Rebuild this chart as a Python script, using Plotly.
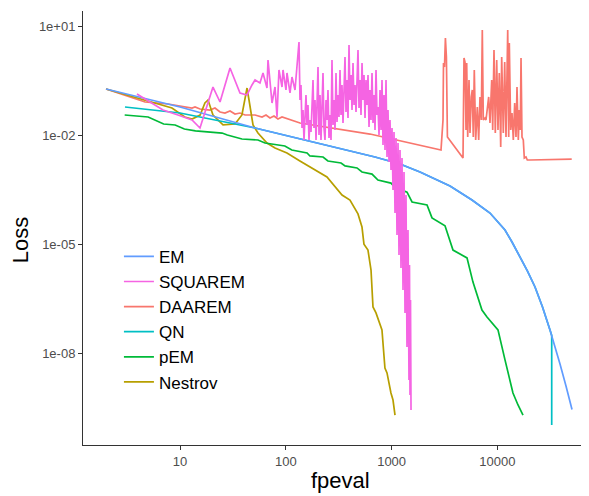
import plotly.graph_objects as go

# ---------------- data ----------------
em_x = [2, 10, 51.2, 136.2, 404.4, 696.8, 1201, 1855, 3565, 4431, 5754, 8511, 9913, 11800, 13740, 16360,
        19250, 22670, 26690, 31420, 35030, 39060, 44500, 50720]
em_y = [0.185, 0.0593, 0.0157, 0.00782, 0.00366, 0.00250, 0.00161, 9.7e-4, 3.99e-4, 2.73e-4, 1.64e-4,
        7.2e-5, 4.49e-5, 2.46e-5, 1.15e-5, 4.45e-6, 1.83e-6, 6.66e-7, 1.88e-7, 4.38e-8, 1.59e-8, 5.09e-9,
        1.26e-9, 2.84e-10]

qn_x = [3.02, 10, 51.2, 136.2, 404.4, 696.8, 1201, 1855, 3565, 4431, 5754, 8511, 9913, 11800, 13740, 16360,
        19250, 22670, 26690, 31420, 32610, 32610]
qn_y = [0.0593, 0.0405, 0.0157, 0.00782, 0.00366, 0.00250, 0.00161, 9.7e-4, 3.99e-4, 2.73e-4, 1.64e-4,
        7.2e-5, 4.49e-5, 2.46e-5, 1.15e-5, 4.45e-6, 1.83e-6, 6.66e-7, 1.88e-7, 4.38e-8, 3.1e-8, 1.07e-10]

pem_x = [3, 5, 7, 9, 11, 14, 25, 28, 38.5, 54.6, 63.6, 98, 114, 159, 169, 225, 250, 333, 363, 471, 525,
         653, 743, 986, 1077, 1399, 1560, 2162, 2409, 3198, 3805, 5160, 5877, 7147, 7974, 10130, 11800,
         14030, 15660, 17460]
pem_y = [0.0357, 0.0315, 0.0202, 0.0190, 0.0147, 0.0130, 0.0114, 0.0101, 0.00782, 0.00734, 0.00607,
         0.00502, 0.00390, 0.00322, 0.00267, 0.00250, 0.00194, 0.00171, 0.00142, 0.00125, 9.7e-4, 8.5e-4,
         5.8e-4, 4.8e-4, 3.7e-4, 2.7e-4, 1.45e-4, 1.2e-4, 5.3e-5, 3.2e-5, 6.9e-6, 4.2e-6, 9.1e-7, 1.55e-7,
         1.0e-7, 4.4e-8, 6.6e-9, 8.1e-10, 3.8e-10, 2.0e-10]

nes_x = [2, 5.2, 8.4, 11.1, 13.0, 15.5, 17.2, 18.4, 20.5, 25.5, 33.1, 38.5, 41.1, 43.0, 44.9, 49.0, 54.6,
         66.4, 79.1, 102.6, 136, 197, 245, 340, 404, 481, 525, 548, 598, 639, 667, 712, 811, 865, 905, 986,
         1031, 1077]
nes_y = [0.185, 0.0813, 0.0556, 0.0315, 0.0277, 0.0357, 0.0764, 0.0923, 0.0357, 0.0190, 0.0202, 0.0357,
         0.0923, 0.197, 0.0923, 0.0190, 0.0114, 0.00607, 0.00442, 0.00322, 0.00194, 1.03e-3, 7.05e-4,
         2.25e-4, 1.64e-4, 6.8e-5, 2.97e-5, 1e-5, 6.9e-6, 1.95e-6, 1.88e-7, 1.29e-7, 4.4e-8, 3.95e-9,
         2.9e-9, 8.1e-10, 5.2e-10, 2.0e-10]

sq_x = [3.92, 6.91, 9.57, 12.99, 15.45, 20.5, 23.9, 29.7, 36.9, 43.0,
        47.9, 51.2, 57.0, 60.9, 66.4, 67.9, 74.1, 79.1, 82.6, 86.2,
        92.1, 94.1, 100.4, 102.6, 109.6, 114.4, 122.2,
        133.3, 136.2, 139.2, 142.3, 145.4, 148.6, 151.9, 155.2, 158.6, 162.1,
        165.7, 169.3, 173.1, 176.9, 180.8, 184.7, 188.8, 193.0, 197.2, 201.6,
        206.0, 210.5, 215.1, 219.9, 224.7, 229.7, 234.7, 239.9, 245.1, 250.5,
        256.1, 261.7, 267.5, 273.3, 279.4, 285.5, 291.8, 298.2, 304.8, 311.5,
        318.3, 325.3, 332.5, 339.8, 347.3, 355.0, 362.8, 370.7, 378.9, 387.2,
        395.8, 404.5, 413.4, 422.5, 431.8, 441.3, 451.0, 460.9, 471.1, 481.4,
        492.0, 502.9, 513.9, 525.3, 536.8, 548.6, 560.7, 573.0, 585.6, 598.5,
        611.7, 625.1, 638.9, 652.9, 667.3, 682.0, 697.0, 712.3, 728.0, 744.0,
        760.4, 777.1, 794.2, 811.7, 829.5, 847.8, 866.4, 885.5, 905.0, 924.9,
        945.3, 966.1,
        987, 1009, 1031, 1054, 1077, 1101, 1125, 1150, 1175, 1201,
        1227, 1254, 1282, 1310, 1339, 1368, 1398, 1429, 1460, 1476,
        1493, 1509, 1526]
sq_y = [0.135, 0.0490, 0.0357, 0.0260, 0.0157, 0.210, 0.0813, 0.700, 0.144, 0.127,
        0.239, 0.327, 0.271, 0.510, 0.197, 1.162, 0.0763, 0.210, 0.0315, 0.617,
        0.210, 0.617, 0.174, 0.510, 0.144, 0.396, 0.174,
        3.63, 0.0923, 0.239, 0.0157, 0.0490, 0.00734, 0.0296, 0.127, 0.0190, 0.0673,
        0.00734, 0.0260, 0.0122, 0.0923, 0.327, 0.0157, 0.0923, 0.00734, 0.0490, 0.746,
        0.0101, 0.127, 0.00734, 0.0490, 0.510, 0.0157, 0.00734, 0.0923, 0.0260, 0.174,
        0.00833, 0.0357, 0.00734, 1.162, 0.0190, 0.0923, 0.0138, 0.510, 0.0229, 0.127,
        0.0315, 0.617, 0.0357, 0.239, 0.0215, 0.174, 1.405, 0.0432, 0.327, 0.0296,
        3.00, 0.0923, 0.449, 0.0490, 0.961, 0.0673, 0.239, 0.0432, 0.700, 2.19,
        0.0556, 0.327, 0.0357, 0.961, 0.0923, 0.449, 0.0296, 0.327, 0.0673, 0.449,
        0.0167, 0.174, 0.0260, 0.510, 0.0215, 0.127, 0.0138, 0.617, 0.0357, 0.0593,
        0.0101, 0.174, 0.0138, 0.327, 0.00535, 0.127, 0.00390, 0.327, 0.00250, 0.0490,
        0.00182, 0.0260,
        0.00110, 0.0157, 3.10e-4, 0.0122, 7.2e-5, 0.00833, 1.79e-5, 0.00607, 5.05e-6, 0.00390,
        2.22e-6, 0.00235, 5.5e-7, 9.7e-4, 1.29e-7, 2.26e-4, 1.49e-8, 2.46e-5, 1.85e-9, 2.68e-6,
        7.1e-10, 2.93e-7, 2.76e-10]

da_x = [2, 4.67, 7.70, 12.99, 13.87, 15.45, 19.2, 21.4, 23.9, 26.6, 29.7, 33.1, 36.9, 41.2, 51.2, 59.6,
        65.0, 70.9, 77.3, 84.4, 92.1, 109.6, 136.2, 625, 2931,
        3061, 3094, 3162, 3226, 3296, 3369, 4730,
        4834, 4941, 5050, 5127, 5240, 5391, 5508, 5666, 5791, 5918, 6048, 6235, 6457, 6657, 6847, 7043,
        7199, 7357, 7634, 7802, 8025, 8274, 8511, 8833, 9028, 9288, 9555, 9849, 10130, 10420, 10750,
        10980, 11370, 11720, 12060, 12520, 12790, 12960, 13360, 13740, 14140, 14570, 14990, 15320, 15760,
        16110, 16460, 16720, 17080, 17570, 17960, 18640, 19170, 20330, 50390]
da_y = [0.185, 0.0813, 0.0717, 0.0556, 0.0593, 0.0522, 0.0490, 0.0556, 0.0432, 0.0405, 0.0460, 0.0380,
        0.0405, 0.0357, 0.0357, 0.0315, 0.0357, 0.0296, 0.0335, 0.0277, 0.0315, 0.0260, 0.0215, 0.0107,
        0.00390,
        0.0260, 0.961, 0.746, 4.68, 1.405, 0.00887, 0.00235,
        1.32, 1.024, 0.0138, 0.961, 0.00887, 0.327, 0.0114, 0.112, 0.174, 0.00887, 0.617, 0.00734, 0.0593,
        0.00734, 0.112, 0.0260, 7.76, 0.0260, 0.0296, 0.0260, 0.0593, 0.112, 0.0215, 0.327, 0.0138, 2.19,
        0.0114, 1.162, 0.0138, 0.510, 0.00471, 1.405, 0.0114, 1.024, 0.00887, 7.76, 0.00887, 3.41, 0.0138,
        0.0405, 0.00734, 0.0763, 0.00887, 0.210, 0.00734, 0.0490, 0.0138, 1.32, 0.00887, 0.00734, 0.00235,
        0.00250, 0.00207, 0.00207, 0.0022]

x_tickvals = [10, 100, 1000, 10000]
x_ticktext = ["10", "100", "1000", "10000"]
y_tickvals = [10, 1e-2, 1e-5, 1e-8]
y_ticktext = ["1e+01", "1e-02", "1e-05", "1e-08"]

# drawing order (bottom -> top) and legend order (rank)
series = [
    ("DAAREM", da_x, da_y, "#F8766D", 3),
    ("Nestrov", nes_x, nes_y, "#B79F00", 6),
    ("pEM", pem_x, pem_y, "#00BA38", 5),
    ("QN", qn_x, qn_y, "#00BFC4", 4),
    ("EM", em_x, em_y, "#619CFF", 1),
    ("SQUAREM", sq_x, sq_y, "#F564E3", 2),
]

FONT = "Liberation Sans, Arial, Helvetica, sans-serif"

fig = go.Figure()
for name, xs, ys, col, rank in series:
    n = min(len(xs), len(ys))
    fig.add_trace(go.Scatter(
        x=xs[:n], y=ys[:n], mode="lines", name=name, legendrank=rank,
        line=dict(color=col, width=1.7),
    ))

# the page body adds an 8px offset, so the figure is sized 8px smaller
fig.update_layout(
    width=581, height=488,
    margin=dict(l=75, r=0, t=3, b=51, autoexpand=False),
    paper_bgcolor="white", plot_bgcolor="white",
    font=dict(family=FONT, color="#000000"),
    showlegend=True,
    legend=dict(
        x=0.071, y=0.475, xanchor="left", yanchor="top",
        bgcolor="rgba(255,255,255,0)", borderwidth=0,
        font=dict(size=17, family=FONT, color="#000000"),
    ),
    annotations=[
        dict(text="fpeval", xref="paper", yref="paper", x=0.508, y=0, yshift=-35,
             xanchor="center", yanchor="middle", showarrow=False,
             font=dict(size=22, color="#000000", family=FONT)),
        dict(text="Loss", xref="paper", yref="paper", x=0, xshift=-63, y=0.472,
             xanchor="center", yanchor="middle", textangle=-90, showarrow=False,
             font=dict(size=22, color="#000000", family=FONT)),
    ],
)

fig.update_xaxes(
    type="log", range=[0.0832, 4.8658], automargin=False,
    tickmode="array", tickvals=x_tickvals, ticktext=x_ticktext,
    showgrid=False, zeroline=False,
    showline=True, linecolor="#333333", linewidth=1,
    ticks="outside", ticklen=4, tickcolor="#333333", tickwidth=1,
    tickfont=dict(size=13, color="#4D4D4D", family=FONT),
)
fig.update_yaxes(
    type="log", range=[-10.5205, 1.4124], automargin=False,
    tickmode="array", tickvals=y_tickvals, ticktext=y_ticktext,
    showgrid=False, zeroline=False,
    showline=True, linecolor="#333333", linewidth=1,
    ticks="outside", ticklen=4, tickcolor="#333333", tickwidth=1,
    tickfont=dict(size=13, color="#4D4D4D", family=FONT),
)

fig.write_html("out.html")
